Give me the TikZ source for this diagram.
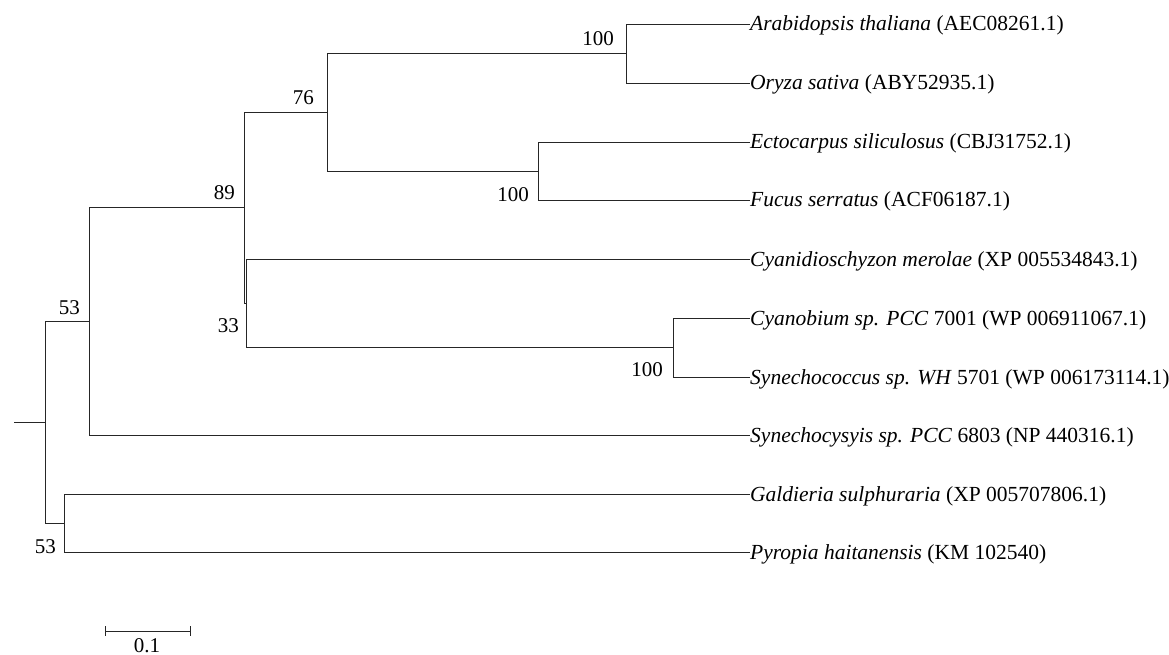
\documentclass[tikz,border=0pt]{standalone}
\usepackage{fontspec}
\setmainfont{Liberation Serif}
\begin{document}
\begin{tikzpicture}[x=1pt,y=-1pt,
  br/.style={draw=black!85,line width=0.9pt},
  leaf/.style={anchor=base west,inner sep=0pt,font=\fontsize{21.5}{25}\selectfont},
  bs/.style={anchor=base east,inner sep=0pt,font=\fontsize{21}{25}\selectfont}]
\useasboundingbox (0,0) rectangle (1169,655);
% leaf tips
\coordinate (tA) at (750,24);
\coordinate (tO) at (750,83);
\coordinate (tE) at (750,142);
\coordinate (tF) at (750,200);
\coordinate (tCd) at (750,259);
\coordinate (tCb) at (750,318);
\coordinate (tSc) at (750,377);
\coordinate (tSy) at (750,435);
\coordinate (tG) at (750,494);
\coordinate (tP) at (750,552);
% internal nodes
\coordinate (nA) at (626,53.5);
\coordinate (nE) at (538,171);
\coordinate (n76) at (327,112);
\coordinate (nC) at (673,347.5);
\coordinate (n33) at (246,303);
\coordinate (n89) at (244,207.5);
\coordinate (n53) at (89,321);
\coordinate (n53b) at (64,523);
\coordinate (root) at (45,422);
\coordinate (stub) at (14,422);
% branches
\draw[br] (stub) -- (root);
\draw[br] (root) |- (n53);
\draw[br] (root) |- (n53b);
\draw[br] (n53b) |- (tG);
\draw[br] (n53b) |- (tP);
\draw[br] (n53) |- (n89);
\draw[br] (n53) |- (tSy);
\draw[br] (n89) |- (n76);
\draw[br] (n89) |- (n33);
\draw[br] (n76) |- (nA);
\draw[br] (n76) |- (nE);
\draw[br] (nA) |- (tA);
\draw[br] (nA) |- (tO);
\draw[br] (nE) |- (tE);
\draw[br] (nE) |- (tF);
\draw[br] (n33) |- (tCd);
\draw[br] (n33) |- (nC);
\draw[br] (nC) |- (tCb);
\draw[br] (nC) |- (tSc);
% leaf labels
\node[leaf] (lA) at (750,31) {\textit{Arabidopsis thaliana} (AEC08261.1)};
\node[leaf] (lO) at (750,90) {\textit{Oryza sativa} (ABY52935.1)};
\node[leaf] (lE) at (750,149) {\textit{Ectocarpus siliculosus} (CBJ31752.1)};
\node[leaf] (lF) at (750,207) {\textit{Fucus serratus} (ACF06187.1)};
\node[leaf] (lCd) at (750,266) {\textit{Cyanidioschyzon merolae} (XP 005534843.1)};
\node[leaf] (lCb) at (750,325) {\textit{Cyanobium sp. PCC} 7001 (WP 006911067.1)};
\node[leaf] (lSc) at (750,384) {\textit{Synechococcus sp. WH} 5701 (WP 006173114.1)};
\node[leaf] (lSy) at (750,442) {\textit{Synechocysyis sp. PCC} 6803 (NP 440316.1)};
\node[leaf] (lG) at (750,501) {\textit{Galdieria sulphuraria} (XP 005707806.1)};
\node[leaf] (lP) at (750,559) {\textit{Pyropia haitanensis} (KM 102540)};
% bootstrap values
\node[bs] (b89) at (235,200) {89};
\node[bs] (b53) at (80,314) {53};
\node[bs] (b33) at (239,332) {33};
\node[bs] (b76) at (314,105) {76};
\node[bs] (bA) at (614,46) {100};
\node[bs] (bE) at (529,201) {100};
\node[bs] (bC) at (663,376) {100};
\node[bs] (b53b) at (56,553) {53};
% scale bar
\coordinate (sb1) at (105,631);
\coordinate (sb2) at (190,631);
\draw[br] (sb1) -- (sb2);
\draw[br] ([yshift=5pt]sb1) -- ([yshift=-5pt]sb1);
\draw[br] ([yshift=5pt]sb2) -- ([yshift=-5pt]sb2);
\node[anchor=base,inner sep=0pt,font=\fontsize{21}{25}\selectfont] (sbl) at (147,652) {0.1};
\end{tikzpicture}
\end{document}
